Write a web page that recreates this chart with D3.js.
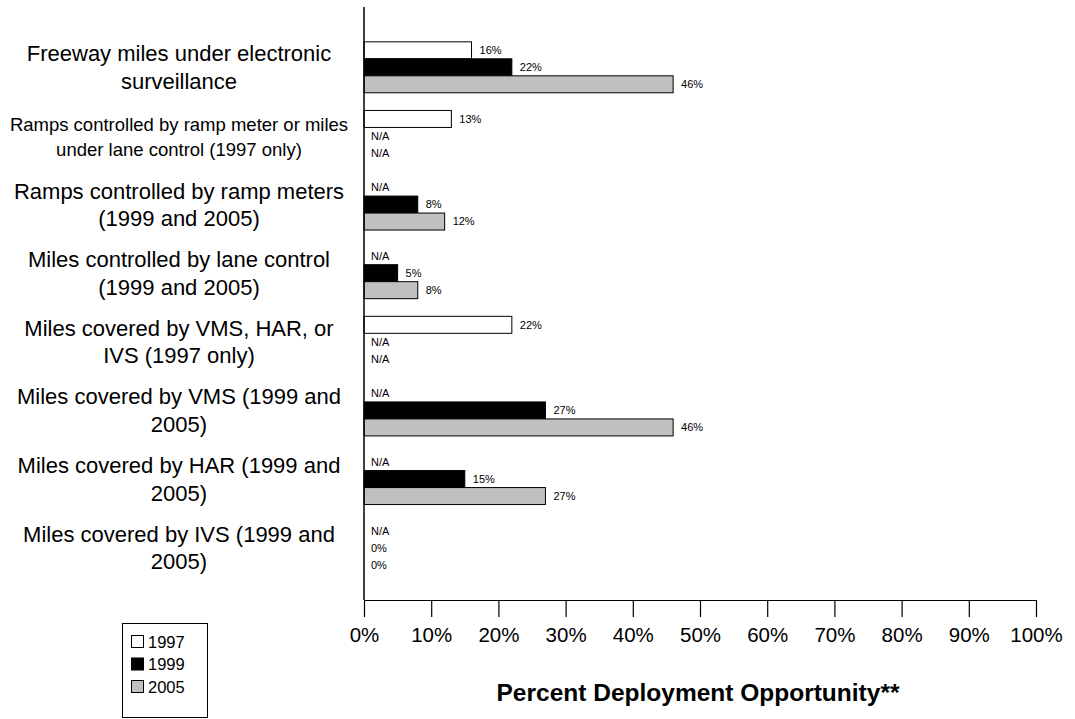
<!DOCTYPE html>
<html>
<head>
<meta charset="utf-8">
<script src="https://cdn.jsdelivr.net/npm/d3@7"></script>
<style>
  html, body { margin: 0; padding: 0; background: #fff; }
  svg { display: block; font-family: "Liberation Sans", Arial, sans-serif; }
</style>
</head>
<body>
<svg id="chart" width="1075" height="719"></svg>
<script>
// ---- data ----
const categories = [
  "Freeway miles under electronic|surveillance",
  "Ramps controlled by ramp meter or miles|under lane control (1997 only)",
  "Ramps controlled by ramp meters|(1999 and 2005)",
  "Miles controlled by lane control|(1999 and 2005)",
  "Miles covered by VMS, HAR, or|IVS (1997 only)",
  "Miles covered by VMS (1999 and|2005)",
  "Miles covered by HAR (1999 and|2005)",
  "Miles covered by IVS (1999 and|2005)"
];
const years = ["1997", "1999", "2005"];
// null = N/A
const values1997 = [16, 13, null, null, 22, null, null, null];
const values1999 = [22, null, 8, 5, null, 27, 15, 0];
const values2005 = [46, null, 12, 8, null, 46, 27, 0];
const xTicks = [0, 10, 20, 30, 40, 50, 60, 70, 80, 90, 100];
const colors = ["#ffffff", "#000000", "#c0c0c0"];
const xTitle = "Percent Deployment Opportunity**";

const series = [values1997, values1999, values2005];
const rows = [];
categories.forEach((c, i) => years.forEach((y, j) => rows.push({cat: c, year: y, yi: j, v: series[j][i]})));

const svg = d3.select("#chart");
const x = d3.scaleLinear().domain([0, 100]).range([364, 1036]);
const y0 = d3.scaleBand().domain(categories).range([33, 582]);
const y1 = d3.scaleBand().domain(years).range([0, y0.bandwidth()]).paddingOuter(0.52).paddingInner(0);

// bars
svg.append("g").selectAll("rect")
  .data(rows.filter(d => d.v !== null && d.v > 0))
  .join("rect")
  .attr("x", x(0))
  .attr("y", d => y0(d.cat) + y1(d.year))
  .attr("width", d => x(d.v) - x(0))
  .attr("height", y1.bandwidth())
  .attr("fill", d => colors[d.yi])
  .attr("stroke", "#000")
  .attr("stroke-width", 1);

// value labels
svg.append("g").selectAll("text")
  .data(rows)
  .join("text")
  .attr("x", d => (d.v === null || d.v === 0) ? 371 : x(d.v) + 8)
  .attr("y", d => y0(d.cat) + y1(d.year) + y1.bandwidth() / 2)
  .attr("dy", "0.35em")
  .attr("font-size", 11)
  .attr("fill", "#000")
  .text(d => d.v === null ? "N/A" : d.v + "%");

// y axis line
svg.append("line").attr("x1", x(0)).attr("x2", x(0)).attr("y1", 7).attr("y2", 600)
  .attr("stroke", "#000").attr("stroke-width", 1.5);

// x axis
const xAxis = d3.axisBottom(x).tickValues(xTicks).tickFormat(d => d + "%").tickSize(17).tickSizeOuter(0);
const gx = svg.append("g").attr("transform", "translate(0,600)").call(xAxis);
gx.select(".domain").attr("stroke", "#000").attr("stroke-width", 1.2);
gx.selectAll(".tick line").attr("stroke", "#000").attr("stroke-width", 1.2);
gx.selectAll(".tick text").attr("font-size", 20.5).attr("font-family", "Liberation Sans, Arial, sans-serif")
  .attr("fill", "#000").attr("y", 27);

// category labels
const catG = svg.append("g");
categories.forEach((c, i) => {
  const lines = c.split("|");
  const small = i === 1;
  const fs = small ? 18.5 : 22;
  const lh = small ? 25 : 27.5;
  const cy = y0(c) + y0.bandwidth() / 2 + (small ? 1 : 0);
  const t = catG.append("text").attr("text-anchor", "middle").attr("font-size", fs).attr("fill", "#000");
  lines.forEach((l, k) => {
    t.append("tspan").attr("x", 179).attr("y", cy + (k - (lines.length - 1) / 2) * lh).attr("dy", "0.35em").text(l);
  });
});

// x title
svg.append("text").attr("x", 698).attr("y", 692).attr("dy", "0.35em").attr("text-anchor", "middle")
  .attr("font-size", 24.5).attr("font-weight", "bold").attr("fill", "#000").text(xTitle);

// legend
const lg = svg.append("g");
lg.append("rect").attr("x", 122.5).attr("y", 623.5).attr("width", 85).attr("height", 94)
  .attr("fill", "#fff").attr("stroke", "#000").attr("stroke-width", 1);
years.forEach((yr, j) => {
  const yy = 642 + j * 22.5;
  lg.append("rect").attr("x", 131.5).attr("y", yy - 6.5).attr("width", 12).attr("height", 12)
    .attr("fill", colors[j]).attr("stroke", "#000").attr("stroke-width", 1);
  lg.append("text").attr("x", 148).attr("y", yy).attr("dy", "0.35em").attr("font-size", 16.5).attr("fill", "#000").text(yr);
});
</script>
</body>
</html>
